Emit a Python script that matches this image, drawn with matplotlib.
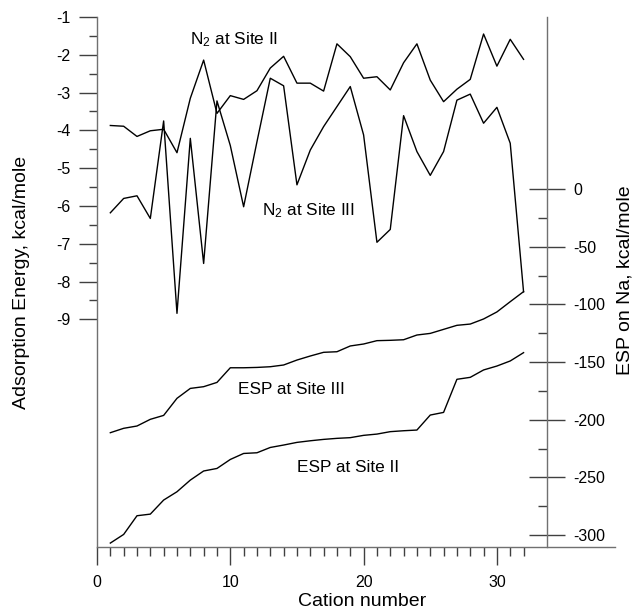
import numpy as np
import matplotlib
matplotlib.use("Agg")
import matplotlib.pyplot as plt
from matplotlib.ticker import FixedLocator, NullFormatter

plt.rcParams['font.family'] = ['Liberation Sans', 'DejaVu Sans']
plt.rcParams['axes.unicode_minus'] = False
plt.rcParams['mathtext.fontset'] = 'custom'
plt.rcParams['mathtext.rm'] = 'Liberation Sans'
plt.rcParams['mathtext.default'] = 'regular'

cation = list(range(1, 33))

n2_site2 = [-3.87, -3.89, -4.16, -4.01, -3.97, -4.59, -3.15, -2.14,
            -3.55, -3.08, -3.18, -2.95, -2.35, -2.04, -2.75, -2.75,
            -2.96, -1.71, -2.05, -2.62, -2.58, -2.93, -2.21, -1.71,
            -2.67, -3.24, -2.91, -2.65, -1.45, -2.30, -1.59, -2.12]
n2_site3 = [-6.18, -5.80, -5.73, -6.33, -3.75, -8.84, -4.21, -7.52,
            -3.22, -4.40, -6.02, -4.30, -2.62, -2.82, -5.44, -4.52,
            -3.90, -3.37, -2.84, -4.12, -6.96, -6.62, -3.61, -4.56,
            -5.19, -4.56, -3.20, -3.04, -3.81, -3.39, -4.34, -8.27]
esp_site3 = [-211.3, -207.5, -205.5, -199.7, -196.3, -181.5, -172.9, -171.4,
             -167.7, -155.0, -155.0, -154.7, -154.1, -152.6, -148.3, -144.8,
             -141.6, -141.1, -136.1, -134.4, -131.5, -131.2, -130.7, -126.6,
             -125.2, -121.7, -118.2, -117.1, -112.7, -106.6, -97.7, -89.0]
esp_site2 = [-307.0, -299.5, -283.3, -281.9, -269.7, -262.5, -252.4, -244.5,
             -242.3, -234.5, -229.3, -228.7, -224.1, -222.0, -219.7, -218.3,
             -217.1, -216.2, -215.6, -213.6, -212.5, -210.4, -209.6, -209.0,
             -196.0, -193.7, -165.0, -163.3, -156.9, -153.5, -149.1, -141.9]

left_ticks = [-1, -2, -3, -4, -5, -6, -7, -8, -9]
left_minor = [-1.5, -2.5, -3.5, -4.5, -5.5, -6.5, -7.5, -8.5]
right_ticks = [0, -50, -100, -150, -200, -250, -300]
right_minor = [-25, -75, -125, -175, -225, -275]
x_ticks = [0, 10, 20, 30]

W, H = 634, 611
fig = plt.figure(figsize=(W / 100, H / 100), dpi=100)
L, R, T, B = 97, 615, 17, 547
ax = fig.add_axes([L / W, (H - B) / H, (R - L) / W, (B - T) / H])

spine_col = '#707070'
tick_col = '#404040'

ax.plot(cation, n2_site2, color='black', lw=1.0)
ax.plot(cation, n2_site3, color='black', lw=1.0)
ax.set_xlim(0, (R - L) / 13.33)
ax.set_ylim(-1 - (B - T) / 37.8, -1)

for s in ['top', 'right']:
    ax.spines[s].set_visible(False)
for s in ['left', 'bottom']:
    ax.spines[s].set_color(spine_col)
    ax.spines[s].set_linewidth(1.0)

ax.yaxis.set_major_locator(FixedLocator(left_ticks))
ax.yaxis.set_minor_locator(FixedLocator(left_minor))
ax.xaxis.set_major_locator(FixedLocator(x_ticks))
ax.xaxis.set_minor_locator(FixedLocator([c for c in cation if c not in x_ticks]))
ax.yaxis.set_minor_formatter(NullFormatter())
ax.xaxis.set_minor_formatter(NullFormatter())
ax.tick_params(axis='y', which='major', direction='out', length=13, width=1.0,
               color=tick_col, labelsize=11.5, pad=6)
ax.tick_params(axis='y', which='minor', direction='out', length=6, width=1.0,
               color=tick_col)
ax.tick_params(axis='x', which='major', direction='out', length=13, width=1.0,
               color=tick_col, labelsize=11.5, pad=7)
ax.tick_params(axis='x', which='minor', direction='out', length=6.5, width=1.0,
               color=tick_col)

ax2 = ax.twinx()
ax2.plot(cation, esp_site3, color='black', lw=1.0)
ax2.plot(cation, esp_site2, color='black', lw=1.0)
ax2.set_ylim(-300 - (B - 535) / 1.1533, (189 - T) / 1.1533)
for s in ['top', 'left', 'bottom']:
    ax2.spines[s].set_visible(False)
ax2.spines['right'].set_position(('axes', (547 - L) / (R - L)))
ax2.spines['right'].set_color(spine_col)
ax2.spines['right'].set_linewidth(1.0)
ax2.yaxis.set_major_locator(FixedLocator(right_ticks))
ax2.yaxis.set_minor_locator(FixedLocator(right_minor))
ax2.yaxis.set_minor_formatter(NullFormatter())
ax2.tick_params(axis='y', which='major', direction='inout', length=26, width=1.0,
                color=tick_col, labelsize=11.5, pad=6)
ax2.tick_params(axis='y', which='minor', direction='in', length=6.5, width=1.0,
                color=tick_col)

ax.text(6.98, -1.71, 'N$_2$ at Site II', fontsize=12.4, ha='left', va='baseline')
ax.text(12.38, -6.24, 'N$_2$ at Site III', fontsize=12.4, ha='left', va='baseline')
ax2.text(10.58, -178, 'ESP at Site III', fontsize=12.4, ha='left', va='baseline')
ax2.text(15.0, -245.6, 'ESP at Site II', fontsize=12.4, ha='left', va='baseline')

fig.text(22 / W, (H - 282) / H, 'Adsorption Energy, kcal/mole', rotation=90,
         fontsize=14, ha='center', va='center')
fig.text(625 / W, (H - 280) / H, 'ESP on Na, kcal/mole', rotation=90,
         fontsize=14, ha='center', va='center')
fig.text(362 / W, (H - 601) / H, 'Cation number', fontsize=14,
         ha='center', va='center')

fig.savefig('out.png', dpi=100)
